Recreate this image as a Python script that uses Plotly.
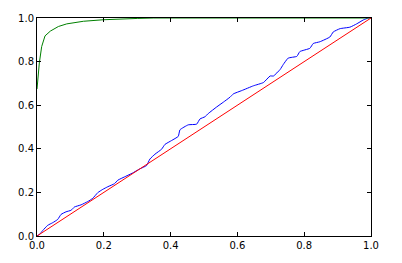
import plotly.graph_objects as go

blue_x = [0, 0.008, 0.017, 0.032, 0.047, 0.062, 0.072, 0.087, 0.102, 0.112, 0.132, 0.152, 0.167,
          0.182, 0.197, 0.212, 0.232, 0.242, 0.266, 0.285, 0.308, 0.328, 0.338, 0.353, 0.373,
          0.383, 0.403, 0.423, 0.428, 0.453, 0.478, 0.488, 0.503, 0.513, 0.538, 0.558, 0.578,
          0.588, 0.613, 0.648, 0.678, 0.698, 0.708, 0.728, 0.737, 0.752, 0.778, 0.787, 0.817,
          0.827, 0.847, 0.877, 0.887, 0.907, 0.937, 0.957, 0.977, 0.992, 1.0]
blue_y = [0, 0.008, 0.025, 0.049, 0.061, 0.076, 0.099, 0.111, 0.118, 0.133, 0.143, 0.158, 0.173,
          0.199, 0.214, 0.226, 0.240, 0.256, 0.274, 0.288, 0.308, 0.323, 0.353, 0.375, 0.398,
          0.420, 0.438, 0.457, 0.487, 0.510, 0.513, 0.537, 0.547, 0.562, 0.592, 0.614, 0.637,
          0.652, 0.667, 0.689, 0.704, 0.734, 0.734, 0.764, 0.786, 0.816, 0.824, 0.846, 0.861,
          0.883, 0.891, 0.913, 0.936, 0.951, 0.958, 0.973, 0.991, 1.0, 1.0]

green_x = [0, 0.007, 0.014, 0.024, 0.04, 0.064, 0.089, 0.139, 0.199, 0.25, 0.3, 0.35, 0.5, 0.75, 1.0]
green_y = [0.674, 0.794, 0.869, 0.918, 0.94, 0.961, 0.973, 0.985, 0.992, 0.996, 0.998, 1.0, 1.0, 1.0, 1.0]

red_x = [0, 1]
red_y = [0, 1]

tick_vals = [0.0, 0.2, 0.4, 0.6, 0.8, 1.0]
tick_text = ["0.0", "0.2", "0.4", "0.6", "0.8", "1.0"]

fig = go.Figure()
fig.add_trace(go.Scatter(x=blue_x, y=blue_y, mode="lines",
                         line=dict(color="#0000ff", width=1, shape="spline", smoothing=0.4)))
fig.add_trace(go.Scatter(x=green_x, y=green_y, mode="lines", line=dict(color="#008000", width=1)))
fig.add_trace(go.Scatter(x=red_x, y=red_y, mode="lines", line=dict(color="#ff0000", width=1)))

axis_common = dict(
    range=[0, 1], tickvals=tick_vals, ticktext=tick_text,
    showgrid=False, zeroline=False,
    showline=True, linecolor="black", linewidth=1, mirror="ticks",
    ticks="inside", ticklen=4, tickcolor="black", tickwidth=1,
    tickfont=dict(family="DejaVu Sans", size=10, color="black"),
)

fig.update_layout(
    width=402, height=263,
    margin=dict(l=37, r=31, t=14, b=26),
    paper_bgcolor="white", plot_bgcolor="white",
    showlegend=False,
    xaxis=dict(**axis_common),
    yaxis=dict(**axis_common),
)

fig.write_html("out.html")
